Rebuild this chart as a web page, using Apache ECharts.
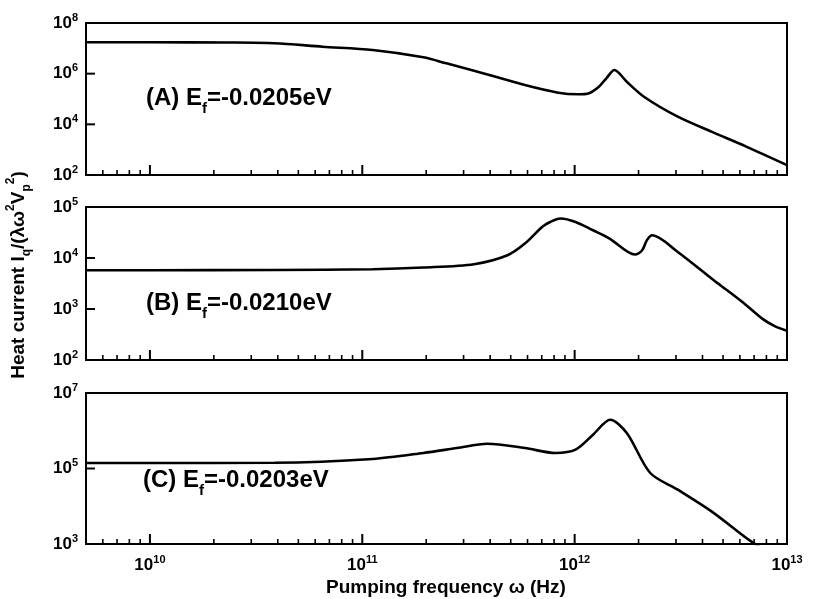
<!DOCTYPE html>
<html><head><meta charset="utf-8">
<script src="https://cdn.jsdelivr.net/npm/echarts@6/dist/echarts.min.js"></script>
<style>html,body{margin:0;padding:0;background:#fff}#c{width:839px;height:599px}</style>
</head><body><div id="c"></div>
<script>
// ---- data (frequency in Hz, heat current in units of I_q/(λω²V_p²)) ----
const freqA = [5e9, 1e10, 2.35e10, 3.86e10, 6.5e10, 1.12e11, 1.94e11, 2.49e11, 3.36e11, 5.83e11, 8.37e11, 1.03e12, 1.17e12, 1.30e12, 1.41e12, 1.54e12, 1.76e12, 2.12e12, 3.06e12, 4.41e12, 6.43e12, 1e13];
const heatA = [1.73e7, 1.73e7, 1.70e7, 1.59e7, 1.16e7, 8.6e6, 4.43e6, 2.56e6, 1.31e6, 3.56e5, 1.78e5, 1.53e5, 1.70e5, 3.05e5, 6.56e5, 1.40e6, 4.79e5, 1.23e5, 2.0e4, 5.13e3, 1.32e3, 245];

const freqB = [5e9, 1e10, 3.86e10, 1.12e11, 1.94e11, 3.36e11, 4.83e11, 5.83e11, 7.03e11, 7.67e11, 8.57e11, 1.01e12, 1.22e12, 1.46e12, 1.92e12, 2.08e12, 2.19e12, 2.32e12, 3.06e12, 4.41e12, 5.32e12, 6.43e12, 7.67e12, 8.75e12, 1e13];
const heatB = [5.77e3, 5.77e3, 5.8e3, 6.03e3, 6.52e3, 7.57e3, 1.135e4, 1.92e4, 4.06e4, 5.08e4, 5.93e4, 5.08e4, 3.50e4, 2.41e4, 1.17e4, 1.42e4, 2.24e4, 2.79e4, 1.315e4, 3.97e3, 2.2e3, 1.19e3, 640, 462, 374];

const freqC = [5e9, 1e10, 3.86e10, 1.12e11, 1.94e11, 2.79e11, 3.88e11, 5.83e11, 8.11e11, 1.01e12, 1.22e12, 1.47e12, 1.76e12, 2.27e12, 3.06e12, 4.41e12, 6.43e12, 7.4e12];
const heatC = [1.40e5, 1.40e5, 1.42e5, 1.79e5, 2.58e5, 3.49e5, 4.54e5, 3.49e5, 2.58e5, 3.15e5, 7.85e5, 1.96e6, 8.71e5, 7.6e4, 2.74e4, 7.31e3, 1.44e3, 851];

const panelNames = ['(A)', '(B)', '(C)'];
const fermiEnergies = ['-0.0205', '-0.0210', '-0.0203'];

const xRange = [5e9, 1e13];
const xMajorTicks = [1e10, 1e11, 1e12, 1e13];
const xMinorTicks = [6e9, 7e9, 8e9, 9e9,
  2e10, 3e10, 4e10, 5e10, 6e10, 7e10, 8e10, 9e10,
  2e11, 3e11, 4e11, 5e11, 6e11, 7e11, 8e11, 9e11,
  2e12, 3e12, 4e12, 5e12, 6e12, 7e12, 8e12, 9e12];
const yRanges = [[1e2, 1e8], [1e2, 1e5], [1e3, 1e7]];
const yTicks = [[1e2, 1e4, 1e6, 1e8], [1e2, 1e3, 1e4, 1e5], [1e3, 1e5, 1e7]];

const xTitle = 'Pumping frequency ω (Hz)';
const yTitle = 'Heat current I{sub|q}/(λω{sup|2}V{sub|p}{sup|2})';

// ---- chart ----
const FONT = "'Liberation Sans', Arial, Helvetica, sans-serif";
const chart = echarts.init(document.getElementById('c'), null, {renderer: 'canvas'});

const gridBoxes = [
  {left: 86, top: 23, width: 701, height: 152},
  {left: 86, top: 207, width: 701, height: 153},
  {left: 86, top: 393, width: 701, height: 151}
];

function powLabel(list) {
  return function (v) {
    const lv = Math.log10(v);
    const hit = list.some(t => Math.abs(Math.log10(t) - lv) < 1e-6);
    return hit ? '{b|10}{s|' + Math.round(lv) + '}' : '';
  };
}
const labelRich = {
  b: {fontFamily: FONT, fontWeight: 'bold', fontSize: 17, color: '#000', lineHeight: 22},
  s: {fontFamily: FONT, fontWeight: 'bold', fontSize: 11, color: '#000', verticalAlign: 'top', lineHeight: 11}
};

const grids = gridBoxes.map(g => Object.assign({show: true, borderColor: '#000', borderWidth: 2, backgroundColor: 'transparent'}, g));

const xAxes = gridBoxes.map((g, i) => ({
  type: 'log', gridIndex: i, min: xRange[0], max: xRange[1],
  axisLine: {show: false}, axisTick: {show: false}, splitLine: {show: false},
  axisLabel: {show: i === 2, margin: 10, formatter: powLabel(xMajorTicks), rich: labelRich, showMinLabel: true, showMaxLabel: true}
}));
const yAxes = gridBoxes.map((g, i) => ({
  type: 'log', gridIndex: i, min: yRanges[i][0], max: yRanges[i][1],
  axisLine: {show: false}, axisTick: {show: false}, splitLine: {show: false},
  axisLabel: {show: true, margin: 8, formatter: powLabel(yTicks[i]), rich: labelRich, showMinLabel: true, showMaxLabel: true}
}));

function xTickSeries(i, values, len, w) {
  return {
    type: 'custom', xAxisIndex: i, yAxisIndex: i, silent: true, z: 6, clip: false,
    data: values.map(v => [v, yRanges[i][0]]),
    renderItem: function (params, api) {
      const p = api.coord([api.value(0), api.value(1)]);
      const cs = params.coordSys;
      const yb = cs.y + cs.height;
      return {type: 'line', shape: {x1: p[0], y1: yb, x2: p[0], y2: yb - len}, style: {stroke: '#000', lineWidth: w}};
    }
  };
}
function yTickSeries(i, values, len, w) {
  return {
    type: 'custom', xAxisIndex: i, yAxisIndex: i, silent: true, z: 6, clip: false,
    data: values.map(v => [xRange[0], v]),
    renderItem: function (params, api) {
      const p = api.coord([api.value(0), api.value(1)]);
      const cs = params.coordSys;
      return {type: 'line', shape: {x1: cs.x, y1: p[1], x2: cs.x + len, y2: p[1]}, style: {stroke: '#000', lineWidth: w}};
    }
  };
}

const curves = [[freqA, heatA], [freqB, heatB], [freqC, heatC]];
const series = [];
curves.forEach((c, i) => {
  series.push({
    type: 'line', xAxisIndex: i, yAxisIndex: i, symbol: 'none', showSymbol: false,
    smooth: 0.3, clip: true, z: 4,
    lineStyle: {color: '#000', width: 2.6},
    data: c[0].map((f, k) => [f, c[1][k]])
  });
  series.push(xTickSeries(i, xMajorTicks, 10, 2));
  series.push(xTickSeries(i, xMinorTicks, 5, 1.6));
  series.push(yTickSeries(i, yTicks[i], 9, 2));
});

const annotRich = {
  sub: {fontFamily: FONT, fontWeight: 'bold', fontSize: 15, fill: '#000', color: '#000', verticalAlign: 'bottom', lineHeight: 15}
};
const annotPos = [[146, 98], [146, 303], [143, 480]];
const graphics = panelNames.map((n, i) => ({
  type: 'text', x: annotPos[i][0], y: annotPos[i][1], silent: true,
  style: {
    text: n + ' E{sub|f}=' + fermiEnergies[i] + 'eV',
    font: 'bold 24px ' + FONT, fill: '#000',
    align: 'left', verticalAlign: 'middle', textAlign: 'left', textVerticalAlign: 'middle',
    lineHeight: 36, rich: annotRich
  }
}));
graphics.push({
  type: 'text', x: 446, y: 588, silent: true,
  style: {text: xTitle, font: 'bold 19px ' + FONT, fill: '#000', align: 'center', verticalAlign: 'middle', textAlign: 'center', textVerticalAlign: 'middle'}
});
graphics.push({
  type: 'text', x: 19, y: 275, rotation: Math.PI / 2, silent: true,
  style: {
    text: yTitle, font: 'bold 19px ' + FONT, fill: '#000',
    align: 'center', verticalAlign: 'middle', textAlign: 'center', textVerticalAlign: 'middle',
    lineHeight: 28,
    rich: {
      sub: {fontFamily: FONT, fontWeight: 'bold', fontSize: 12, fill: '#000', verticalAlign: 'bottom', lineHeight: 12},
      sup: {fontFamily: FONT, fontWeight: 'bold', fontSize: 12, fill: '#000', verticalAlign: 'top', lineHeight: 12}
    }
  }
});

chart.setOption({
  animation: false,
  backgroundColor: '#fff',
  grid: grids,
  xAxis: xAxes,
  yAxis: yAxes,
  series: series,
  graphic: graphics
});
</script>
</body></html>
